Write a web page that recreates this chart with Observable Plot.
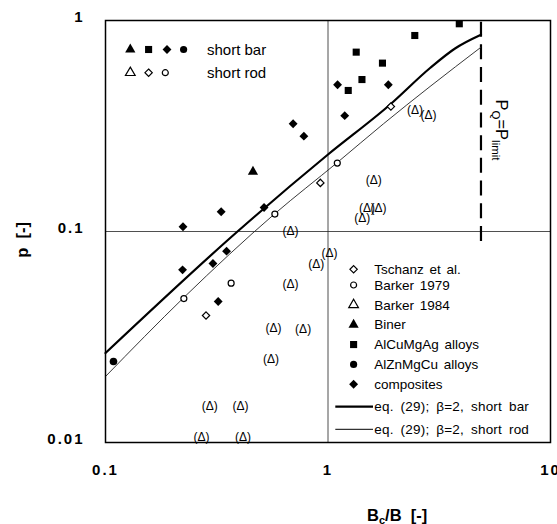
<!DOCTYPE html>
<html><head><meta charset="utf-8">
<script src="https://cdn.jsdelivr.net/npm/d3@7"></script>
<script src="https://cdn.jsdelivr.net/npm/@observablehq/plot@0.6"></script>
<style>
body{margin:0;background:#fff;}
#chart svg{display:block;}
g[aria-label="x-axis tick label"] text, g[aria-label="y-axis tick label"] text {letter-spacing:2px;font-weight:bold;}
</style></head><body><div id="chart"></div>
<script>
const FONT = "'Liberation Sans', Arial, Helvetica, sans-serif";

// ---- data ----
const tschanzX = [0.283, 0.924, 1.917];
const tschanzY = [0.040, 0.170, 0.391];
const barker1979X = [0.225, 0.367, 0.577, 1.101];
const barker1979Y = [0.0481, 0.0569, 0.121, 0.211];
const barker1984X = [2.463, 2.826, 1.605, 1.496, 1.686, 1.425, 0.678, 1.016, 0.886, 0.678, 0.569, 0.773, 0.554, 0.404, 0.294, 0.270, 0.415];
const barker1984Y = [0.3745, 0.3546, 0.1745, 0.1295, 0.1288, 0.1159, 0.1005, 0.0789, 0.0698, 0.0563, 0.0349, 0.0346, 0.0247, 0.0149, 0.0149, 0.01056, 0.01056];
const binerX = [0.460];
const binerY = [0.192];
const alCuMgAgX = [1.339, 1.757, 1.421, 1.233, 2.455, 3.891];
const alCuMgAgY = [0.708, 0.628, 0.525, 0.466, 0.849, 0.965];
const alZnMgCuX = [0.1086];
const alZnMgCuY = [0.0242];
const compositesX = [0.223, 0.331, 0.350, 0.304, 0.222, 0.321, 0.516, 0.697, 0.779, 1.189, 1.104, 1.867];
const compositesY = [0.1053, 0.124, 0.0807, 0.0705, 0.0658, 0.0466, 0.130, 0.324, 0.283, 0.354, 0.496, 0.496];
const barCurveX = [0.1, 0.392, 1.0, 1.903, 2.876, 3.724, 4.87];
const barCurveY = [0.02655, 0.1, 0.2317, 0.3999, 0.5955, 0.737, 0.856];
const rodCurveX = [0.1, 0.2252, 0.576, 1.097, 1.776, 2.875, 4.87];
const rodCurveY = [0.02055, 0.0487, 0.1213, 0.2116, 0.324, 0.4866, 0.747];
const pLimit = 4.87;
const pLimitSpan = [0.0897, 1];   // vertical extent of the P_Q = P_limit marker (stops at the legend)
const gridX = [1];
const gridY = [0.1];
const xTicks = [0.1, 1, 10];
const yTicks = [0.01, 0.1, 1];
const legendLabels = ["Tschanz et al.", "Barker 1979", "Barker 1984", "Biner", "AlCuMgAg alloys", "AlZnMgCu alloys", "composites"];
const curveLabels = ["eq. (29); \u03b2=2, short bar", "eq. (29); \u03b2=2, short rod"];
const keyLabels = ["short bar", "short rod"];

const pts = (xs, ys) => xs.map((x, i) => ({x, y: ys[i]}));

// ---- legends / labels drawn as a render function ----
const SYM = {triangle: d3.symbolTriangle, square: d3.symbolSquare, diamond: d3.symbolDiamond2, circle: d3.symbolCircle};
function drawSym(g, type, r, filled, x, y) {
  g.append("path")
    .attr("d", d3.symbol(SYM[type], Math.PI * r * r)())
    .attr("transform", `translate(${x},${y})`)
    .attr("fill", filled ? "black" : "none")
    .attr("stroke", filled ? "none" : "black")
    .attr("stroke-width", 1.2);
}
function annotations(index, scales, values, dims) {
  const L = dims.marginLeft, T = dims.marginTop;
  const g = d3.create("svg:g").attr("font-family", FONT).attr("fill", "black").attr("text-anchor", "start");
  // top-left key
  const keyRows = [
    {y: T + 29.5, syms: [["triangle", 3.8, 25.3], ["square", 4.0, 43.6], ["diamond", 4.0, 62], ["circle", 3.6, 78.6]], filled: true},
    {y: T + 52.7, syms: [["triangle", 3.6, 25.3], ["diamond", 3.3, 43.6], ["circle", 3.0, 60.3]], filled: false}
  ];
  keyRows.forEach((row, i) => {
    row.syms.forEach(([t, r, dx]) => drawSym(g, t, r, row.filled, L + dx, row.y));
    g.append("text").attr("x", L + 102).attr("y", row.y).attr("dy", "0.35em")
      .attr("font-size", 15).text(keyLabels[i]);
  });
  // bottom-right legend
  const symX = L + 248.6, txtX = L + 269.3;
  const legendSyms = [["diamond", 3.3, false], ["circle", 3.0, false], ["triangle", 3.6, false], ["triangle", 3.8, true], ["square", 4.0, true], ["circle", 3.6, true], ["diamond", 4.0, true]];
  const rowY = i => T + (i === 0 ? 249.3 : 265 + (i - 1) * 19.85);
  legendLabels.forEach((lab, i) => {
    const [t, r, f] = legendSyms[i];
    drawSym(g, t, r, f, symX, rowY(i));
    g.append("text").attr("x", txtX).attr("y", rowY(i)).attr("dy", "0.35em")
      .attr("font-size", 13.5).attr("word-spacing", 2).text(lab);
  });
  curveLabels.forEach((lab, i) => {
    const y = T + 386.7 + i * 22.6;
    g.append("line").attr("x1", L + 230.3).attr("x2", L + 268).attr("y1", y).attr("y2", y)
      .attr("stroke", "black").attr("stroke-width", i === 0 ? 2.2 : 1);
    g.append("text").attr("x", L + 269.3).attr("y", y).attr("dy", "0.35em")
      .attr("font-size", 13.5).attr("word-spacing", 3).attr("letter-spacing", 0.2).text(lab);
  });
  // P_Q = P_limit label
  const px = scales.x(pLimit) + 15.5, py = T + 110;
  const t = g.append("text").attr("transform", `translate(${px},${py}) rotate(90)`)
    .attr("text-anchor", "middle").attr("font-size", 16.5);
  t.append("tspan").text("P");
  t.append("tspan").attr("font-size", 11.5).attr("dy", 4).text("Q");
  t.append("tspan").attr("dy", -4).text("=P");
  t.append("tspan").attr("font-size", 11.5).attr("dy", 4).text("limit");
  // x axis label
  const xl = g.append("text").attr("x", 367).attr("y", 520.5)
    .attr("font-size", 16.5).attr("font-weight", "bold");
  xl.append("tspan").text("B");
  xl.append("tspan").attr("font-size", 11).attr("dy", 3).text("c");
  xl.append("tspan").attr("dy", -3).text("/B\u00a0\u00a0[-]");
  // y axis label
  g.append("text").attr("transform", "translate(27.5,240) rotate(-90)")
    .attr("text-anchor", "middle").attr("font-size", 16.5).attr("font-weight", "bold")
    .text("p\u00a0\u00a0[-]");
  return g.node();
}

const chart = Plot.plot({
  width: 557,
  height: 524,
  marginLeft: 105,
  marginRight: 7,
  marginTop: 20,
  marginBottom: 82,
  style: {fontFamily: FONT, background: "white", color: "black"},
  x: {type: "log", domain: [0.1, 10]},
  y: {type: "log", domain: [0.01, 1]},
  marks: [
    Plot.ruleX(gridX, {stroke: "#222", strokeWidth: 0.8}),
    Plot.ruleY(gridY, {stroke: "#222", strokeWidth: 0.8}),
    Plot.ruleX([pLimit], {y1: () => pLimitSpan[0], y2: () => pLimitSpan[1], stroke: "black", strokeWidth: 2.2, strokeDasharray: "15,7.7"}),
    Plot.line(pts(barCurveX, barCurveY), {x: "x", y: "y", curve: "monotone-x", stroke: "black", strokeWidth: 2.2}),
    Plot.line(pts(rodCurveX, rodCurveY), {x: "x", y: "y", curve: "monotone-x", stroke: "#222", strokeWidth: 0.9}),
    Plot.text(pts(barker1984X, barker1984Y), {x: "x", y: "y", text: () => "(\u0394)", fontSize: 12, fill: "black"}),
    Plot.dot(pts(tschanzX, tschanzY), {x: "x", y: "y", symbol: "diamond2", r: 3.3, stroke: "black", strokeWidth: 1.2, fill: "white"}),
    Plot.dot(pts(barker1979X, barker1979Y), {x: "x", y: "y", symbol: "circle", r: 3.0, stroke: "black", strokeWidth: 1.2, fill: "white"}),
    Plot.dot(pts(binerX, binerY), {x: "x", y: "y", symbol: "triangle", r: 3.8, fill: "black"}),
    Plot.dot(pts(alCuMgAgX, alCuMgAgY), {x: "x", y: "y", symbol: "square", r: 4.0, fill: "black"}),
    Plot.dot(pts(alZnMgCuX, alZnMgCuY), {x: "x", y: "y", symbol: "circle", r: 3.8, fill: "black"}),
    Plot.dot(pts(compositesX, compositesY), {x: "x", y: "y", symbol: "diamond2", r: 4.0, fill: "black"}),
    Plot.frame({stroke: "black", strokeWidth: 1.5}),
    Plot.axisX({ticks: xTicks, tickFormat: d => String(d), tickSize: 0, tickPadding: 22, fontSize: 15, fontWeight: "bold", label: null}),
    Plot.axisY({ticks: yTicks, tickFormat: d => String(d), tickSize: 0, tickPadding: 21, fontSize: 15, fontWeight: "bold", label: null, dy: -3}),
    annotations
  ]
});
document.getElementById("chart").appendChild(chart);
</script></body></html>
